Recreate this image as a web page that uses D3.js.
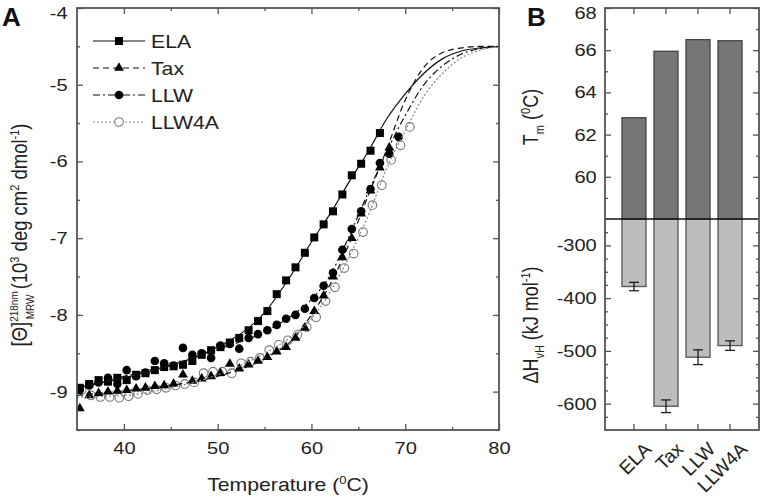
<!DOCTYPE html>
<html>
<head>
<meta charset="utf-8">
<script src="https://cdn.jsdelivr.net/npm/d3@7"></script>
<style>
body{margin:0;background:#fff;}
svg{font-family:"Liberation Sans",Arial,sans-serif;}
</style>
</head>
<body>
<div id="chart"></div>
<script>
// panel A: CD melting data (T in C, theta in 10^3 deg cm2 dmol-1)
var elaT   = [35.3,36.3,37.3,38.3,39.3,40.3,41.3,42.3,43.3,44.3,45.3,46.3,47.3,48.3,49.3,50.3,51.3,52.3,53.3,54.3,55.3,56.3,57.3,58.3,59.3,60.3,61.3,62.3,63.3,64.3,65.3,66.3,67.3];
var elaV   = [-8.95,-8.9,-8.85,-8.87,-8.82,-8.85,-8.78,-8.76,-8.72,-8.68,-8.67,-8.65,-8.6,-8.52,-8.46,-8.42,-8.36,-8.3,-8.2,-8.08,-7.95,-7.73,-7.55,-7.38,-7.19,-6.99,-6.82,-6.65,-6.43,-6.18,-6.03,-5.86,-5.63];
var taxT   = [35.3,36.3,37.3,38.3,39.3,40.3,41.3,42.3,43.3,44.3,45.3,46.3,47.3,48.3,49.3,50.3,51.3,52.3,53.3,54.3,55.3,56.3,57.3,58.3,59.3,60.3,61.3,62.3,63.3,64.3,65.3,66.3,67.3,68.3];
var taxV   = [-9.22,-9.05,-9.02,-9.0,-8.99,-8.98,-8.96,-8.95,-8.93,-8.92,-8.9,-8.78,-8.86,-8.83,-8.8,-8.76,-8.64,-8.7,-8.65,-8.6,-8.55,-8.48,-8.42,-8.3,-8.17,-7.95,-7.75,-7.5,-7.25,-7.0,-6.68,-6.38,-6.08,-5.82];
var llwT   = [35.3,36.3,37.3,38.3,39.3,40.3,41.3,42.3,43.3,44.3,45.3,46.3,47.3,48.3,49.3,50.3,51.3,52.3,53.3,54.3,55.3,56.3,57.3,58.3,59.3,60.3,61.3,62.3,63.3,64.3,65.3,66.3,67.3,68.3,69.3];
var llwV   = [-8.98,-8.92,-8.88,-8.82,-8.9,-8.72,-8.8,-8.75,-8.6,-8.63,-8.66,-8.43,-8.52,-8.5,-8.56,-8.4,-8.38,-8.44,-8.3,-8.25,-8.2,-8.13,-8.05,-8.0,-7.92,-7.78,-7.62,-7.45,-7.15,-6.88,-6.65,-6.36,-6.02,-5.9,-5.68];
var llw4aT = [35.5,36.5,37.5,38.5,39.5,40.5,41.5,42.5,43.5,44.5,45.5,46.5,47.5,48.5,49.5,50.5,51.5,52.5,53.5,54.5,55.5,56.5,57.5,58.5,59.5,60.5,61.5,62.5,63.5,64.5,65.5,66.5,67.5,68.5,69.5,70.5];
var llw4aV = [-8.98,-9.05,-9.07,-9.07,-9.08,-9.06,-9.03,-8.98,-8.97,-8.95,-8.92,-8.9,-8.88,-8.76,-8.74,-8.74,-8.76,-8.63,-8.61,-8.56,-8.46,-8.39,-8.33,-8.26,-8.16,-8.03,-7.82,-7.64,-7.39,-7.2,-6.92,-6.57,-6.31,-5.98,-5.79,-5.55];

// fitted curves
var fitT     = [35,40,45,50,55,58,60,62,64,66,68,70,72,74,76,78,80];
var elaFit   = [-8.95,-8.82,-8.66,-8.42,-7.97,-7.45,-7.05,-6.68,-6.27,-5.88,-5.45,-5.12,-4.85,-4.66,-4.56,-4.52,-4.5];
var taxFit   = [-9.05,-8.99,-8.92,-8.8,-8.57,-8.32,-8.0,-7.6,-7.08,-6.46,-5.85,-5.2,-4.77,-4.58,-4.52,-4.5,-4.5];
var llwFit   = [-8.95,-8.8,-8.65,-8.45,-8.22,-8.0,-7.8,-7.48,-6.98,-6.42,-5.88,-5.4,-5.0,-4.75,-4.6,-4.53,-4.5];
var llw4aFit = [-9.07,-9.05,-8.95,-8.78,-8.5,-8.27,-8.05,-7.7,-7.25,-6.72,-6.1,-5.6,-5.15,-4.85,-4.65,-4.55,-4.5];

// panel B
var peptides = ["ELA","Tax","LLW","LLW4A"];
var tmVals   = [62.8,65.95,66.5,66.45];
var dhVals   = [-378,-605,-512,-490];
var dhErr    = [8,12,14,9];

var xTicksA = [40,50,60,70,80];
var yTicksA = [-9,-8,-7,-6,-5,-4];
var tmTicks = [60,62,64,66,68];
var dhTicks = [-600,-500,-400,-300];

var W = 760, H = 504;
var SX = 1.18; // text in the picture is drawn a bit wide
var svg = d3.select("#chart").append("svg").attr("width",W).attr("height",H);
var frameCol = "#555", txtCol = "#222";

var x = d3.scaleLinear().domain([35,80]).range([77,499]);
var y = d3.scaleLinear().domain([-9.5,-4]).range([430,8]);
var fmt = function(d){return String(d);};

function styleAxis(g){
	g.select(".domain").remove();
	g.selectAll(".tick line").attr("stroke",frameCol).attr("stroke-width",1.3);
	g.selectAll(".tick text").attr("fill",txtCol).style("font-size","17px").attr("transform","scale("+SX+",1)");
}
function wideText(px,py,rot){
	var t = svg.append("text").attr("fill",txtCol).style("font-size","18px");
	if(rot) t.attr("transform","translate("+px+","+py+") rotate(-90) scale(1,"+SX+")");
	else t.attr("transform","translate("+px+","+py+") scale("+SX+",1)");
	return t;
}
// keep the topmost label inside the page
function nudgeTop(top){
	return function(g){ g.selectAll(".tick text").filter(function(d){return d==top;}).attr("dy","0.6em"); };
}

// panel A axes
var gA = svg.append("g");
gA.append("g").attr("transform","translate(0,430)")
	.call(d3.axisBottom(x).tickValues(xTicksA).tickFormat(fmt).tickSize(-6).tickPadding(12)).call(styleAxis);
gA.append("g").attr("transform","translate(0,430)")
	.call(d3.axisBottom(x).tickValues([45,55,65,75]).tickFormat("").tickSize(-3)).call(styleAxis);
gA.append("g").attr("transform","translate(0,8)")
	.call(d3.axisTop(x).tickValues(xTicksA).tickFormat("").tickSize(-6)).call(styleAxis);
gA.append("g").attr("transform","translate(0,8)")
	.call(d3.axisTop(x).tickValues([45,55,65,75]).tickFormat("").tickSize(-3)).call(styleAxis);
gA.append("g").attr("transform","translate(77,0)")
	.call(d3.axisLeft(y).tickValues(yTicksA).tickFormat(fmt).tickSize(-6).tickPadding(8)).call(styleAxis).call(nudgeTop(-4));
gA.append("g").attr("transform","translate(77,0)")
	.call(d3.axisLeft(y).tickValues([-9.5,-8.5,-7.5,-6.5,-5.5,-4.5]).tickFormat("").tickSize(-3)).call(styleAxis);
gA.append("g").attr("transform","translate(499,0)")
	.call(d3.axisRight(y).tickValues(yTicksA).tickFormat("").tickSize(-6)).call(styleAxis);
gA.append("g").attr("transform","translate(499,0)")
	.call(d3.axisRight(y).tickValues([-9.5,-8.5,-7.5,-6.5,-5.5,-4.5]).tickFormat("").tickSize(-3)).call(styleAxis);

svg.append("clipPath").attr("id","clipA").append("rect").attr("x",77).attr("y",8).attr("width",422).attr("height",422);

var line = d3.line().x(function(d){return x(d[0]);}).y(function(d){return y(d[1]);}).curve(d3.curveMonotoneX);
var series = [
	{name:"ELA",   T:elaT,   V:elaV,   fit:elaFit,   dash:null,      col:"#111", sym:"square"},
	{name:"Tax",   T:taxT,   V:taxV,   fit:taxFit,   dash:"6,4",     col:"#111", sym:"triangle"},
	{name:"LLW",   T:llwT,   V:llwV,   fit:llwFit,   dash:"7,3,2,3", col:"#111", sym:"circle"},
	{name:"LLW4A", T:llw4aT, V:llw4aV, fit:llw4aFit, dash:"2,2",     col:"#888", sym:"open"}
];

var plotA = svg.append("g").attr("clip-path","url(#clipA)");

function drawSym(g, s, cx, cy){
	if(s.sym=="square"){
		g.append("rect").attr("x",cx-4).attr("y",cy-4).attr("width",8).attr("height",8).attr("fill","#000");
	} else if(s.sym=="triangle"){
		g.append("path").attr("d",d3.symbol(d3.symbolTriangle,42)()).attr("transform","translate("+cx+","+cy+")").attr("fill","#000");
	} else if(s.sym=="circle"){
		g.append("circle").attr("cx",cx).attr("cy",cy).attr("r",4.3).attr("fill","#000");
	} else {
		g.append("circle").attr("cx",cx).attr("cy",cy).attr("r",4.3).attr("fill","#fff").attr("stroke","#777").attr("stroke-width",1.1);
	}
}

// markers first (open circles at back), then fits
[3,1,2,0].forEach(function(i){
	var s = series[i];
	var g = plotA.append("g");
	s.T.forEach(function(t,k){ drawSym(g, s, x(t), y(s.V[k])); });
});
series.forEach(function(s){
	plotA.append("path").datum(d3.zip(fitT,s.fit)).attr("d",line)
		.attr("fill","none").attr("stroke",s.col).attr("stroke-width",1.2)
		.attr("stroke-dasharray",s.dash);
});

svg.append("rect").attr("x",77).attr("y",8).attr("width",422).attr("height",422)
	.attr("fill","none").attr("stroke",frameCol).attr("stroke-width",1.8);

// legend
var leg = svg.append("g");
series.forEach(function(s,i){
	var ly = 41 + i*27;
	leg.append("line").attr("x1",93).attr("x2",145).attr("y1",ly).attr("y2",ly)
		.attr("stroke",s.col).attr("stroke-width",1.2).attr("stroke-dasharray",s.dash);
	drawSym(leg, s, 119, ly);
	wideText(151, ly+6.5).text(s.name);
});

// axis titles A
wideText(288, 491).attr("text-anchor","middle")
	.call(function(t){
		t.append("tspan").text("Temperature  (");
		t.append("tspan").text("0").attr("dy",-7).style("font-size","11px");
		t.append("tspan").text("C)").attr("dy",7);
	});
wideText(27, 235, true).attr("text-anchor","middle").style("font-size","18.5px")
	.call(function(t){
		t.append("tspan").text("[Θ]");
		t.append("tspan").text("218nm").attr("dy",-8).style("font-size","10px");
		t.append("tspan").text("MRW").attr("dx",-28).attr("dy",14).style("font-size","10px");
		t.append("tspan").text("  (10").attr("dy",-6);
		t.append("tspan").text("3").attr("dy",-7).style("font-size","11px");
		t.append("tspan").text(" deg cm").attr("dy",7);
		t.append("tspan").text("2").attr("dy",-7).style("font-size","11px");
		t.append("tspan").text(" dmol").attr("dy",7);
		t.append("tspan").text("-1").attr("dy",-7).style("font-size","11px");
		t.append("tspan").text(")").attr("dy",7);
	});

svg.append("text").attr("x",2).attr("y",26).text("A").attr("font-weight","bold").style("font-size","26px").attr("fill","#111");
svg.append("text").attr("x",527).attr("y",26).text("B").attr("font-weight","bold").style("font-size","26px").attr("fill","#111");

// panel B
var xb = d3.scaleBand().domain(peptides).range([605,759]).paddingInner(0.25).paddingOuter(0.53);
var yTop = d3.scaleLinear().domain([58,68]).range([219,8]);
var yBot = d3.scaleLinear().domain([-650,-250]).range([430,219]);
var gB = svg.append("g");

gB.selectAll("rect.tm").data(peptides).enter().append("rect").attr("class","tm")
	.attr("x",function(d){return xb(d);}).attr("width",xb.bandwidth())
	.attr("y",function(d,i){return yTop(tmVals[i]);})
	.attr("height",function(d,i){return yTop(58)-yTop(tmVals[i]);})
	.attr("fill","#767676").attr("stroke","#444").attr("stroke-width",1.3);
gB.selectAll("rect.dh").data(peptides).enter().append("rect").attr("class","dh")
	.attr("x",function(d){return xb(d);}).attr("width",xb.bandwidth())
	.attr("y",yBot(-250))
	.attr("height",function(d,i){return yBot(dhVals[i])-yBot(-250);})
	.attr("fill","#bdbdbd").attr("stroke","#555").attr("stroke-width",1.3);

var eb = gB.selectAll("g.err").data(peptides).enter().append("g").attr("class","err");
eb.append("line").attr("x1",function(d){return xb(d)+xb.bandwidth()/2;}).attr("x2",function(d){return xb(d)+xb.bandwidth()/2;})
	.attr("y1",function(d,i){return yBot(dhVals[i]+dhErr[i]);}).attr("y2",function(d,i){return yBot(dhVals[i]-dhErr[i]);})
	.attr("stroke","#111").attr("stroke-width",1.2);
[1,-1].forEach(function(sg){
	eb.append("line").attr("x1",function(d){return xb(d)+xb.bandwidth()/2-5;}).attr("x2",function(d){return xb(d)+xb.bandwidth()/2+5;})
		.attr("y1",function(d,i){return yBot(dhVals[i]+sg*dhErr[i]);}).attr("y2",function(d,i){return yBot(dhVals[i]+sg*dhErr[i]);})
		.attr("stroke","#111").attr("stroke-width",1.2);
});

var minorTm = [59,61,63,65,67];
var minorDh = [-625,-575,-550,-525,-475,-450,-425,-375,-350,-325,-275];
gB.append("g").attr("transform","translate(0,430)").call(d3.axisBottom(xb).tickFormat("").tickSize(-6)).call(styleAxis);
gB.append("g").attr("transform","translate(0,8)").call(d3.axisTop(xb).tickFormat("").tickSize(-6)).call(styleAxis);
gB.append("g").attr("transform","translate(605,0)").call(d3.axisLeft(yTop).tickValues(tmTicks).tickFormat(fmt).tickSize(-6).tickPadding(7)).call(styleAxis).call(nudgeTop(68));
gB.append("g").attr("transform","translate(605,0)").call(d3.axisLeft(yTop).tickValues(minorTm).tickFormat("").tickSize(-3)).call(styleAxis);
gB.append("g").attr("transform","translate(605,0)").call(d3.axisLeft(yBot).tickValues(dhTicks).tickFormat(fmt).tickSize(-6).tickPadding(7)).call(styleAxis);
gB.append("g").attr("transform","translate(605,0)").call(d3.axisLeft(yBot).tickValues(minorDh).tickFormat("").tickSize(-3)).call(styleAxis);
gB.append("g").attr("transform","translate(759,0)").call(d3.axisRight(yTop).tickValues(tmTicks).tickFormat("").tickSize(-6)).call(styleAxis);
gB.append("g").attr("transform","translate(759,0)").call(d3.axisRight(yTop).tickValues(minorTm).tickFormat("").tickSize(-3)).call(styleAxis);
gB.append("g").attr("transform","translate(759,0)").call(d3.axisRight(yBot).tickValues(dhTicks).tickFormat("").tickSize(-6)).call(styleAxis);
gB.append("g").attr("transform","translate(759,0)").call(d3.axisRight(yBot).tickValues(minorDh).tickFormat("").tickSize(-3)).call(styleAxis);

gB.selectAll("text.cat").data(peptides).enter().append("text").attr("class","cat")
	.attr("transform",function(d){return "translate("+(xb(d)+xb.bandwidth()/2+9)+",441) rotate(-45)";})
	.attr("text-anchor","end").attr("dy","0.7em").attr("fill",txtCol).style("font-size","19px").text(function(d){return d;});

gB.append("line").attr("x1",605).attr("x2",759).attr("y1",219).attr("y2",219).attr("stroke","#111").attr("stroke-width",1.5);
gB.append("rect").attr("x",605).attr("y",8).attr("width",154).attr("height",422)
	.attr("fill","none").attr("stroke",frameCol).attr("stroke-width",1.8);

wideText(538, 117, true).attr("text-anchor","middle")
	.call(function(t){
		t.append("tspan").text("T");
		t.append("tspan").text("m").attr("dy",5).style("font-size","11px");
		t.append("tspan").text("   (").attr("dy",-5);
		t.append("tspan").text("0").attr("dy",-7).style("font-size","11px");
		t.append("tspan").text("C)").attr("dy",7);
	});
wideText(538, 325, true).attr("text-anchor","middle")
	.call(function(t){
		t.append("tspan").text("ΔH");
		t.append("tspan").text("vH").attr("dy",5).style("font-size","11px");
		t.append("tspan").text("   (kJ mol").attr("dy",-5);
		t.append("tspan").text("-1").attr("dy",-7).style("font-size","11px");
		t.append("tspan").text(")").attr("dy",7);
	});
</script>
</body>
</html>
